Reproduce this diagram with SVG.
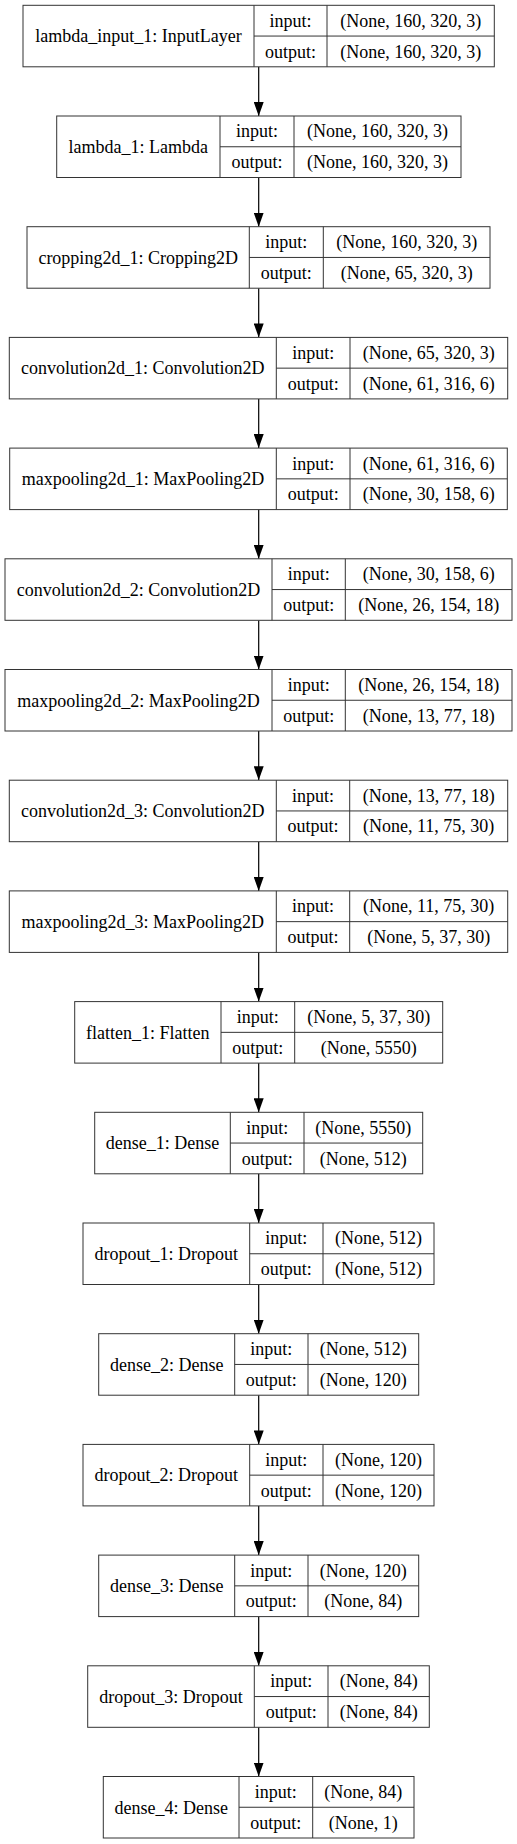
<svg xmlns="http://www.w3.org/2000/svg" width="517" height="1844" viewBox="0 0 517 1844">
<style>
.b{fill:#fff;stroke:#333;stroke-width:1}
.l{stroke:#333;stroke-width:1;fill:none}
text{font-family:"Liberation Serif","Times New Roman",serif;font-size:18px;text-anchor:middle;fill:#000}
.c{stroke:#000;stroke-width:1.2;fill:none}
</style>
<defs>
<marker id="ah" markerUnits="userSpaceOnUse" markerWidth="14" markerHeight="10" viewBox="0 0 14 10" refX="14" refY="5" orient="auto"><path d="M0,0 L14,5 L0,10 z" fill="#000"/></marker>
</defs>
<rect width="517" height="1844" fill="#fff"/>
<g id="connectors">
<line class="c" x1="258.7" y1="66.8" x2="258.7" y2="116" marker-end="url(#ah)"/>
<line class="c" x1="258.7" y1="177.5" x2="258.7" y2="226.7" marker-end="url(#ah)"/>
<line class="c" x1="258.7" y1="288.2" x2="258.7" y2="337.4" marker-end="url(#ah)"/>
<line class="c" x1="258.7" y1="398.9" x2="258.7" y2="448.1" marker-end="url(#ah)"/>
<line class="c" x1="258.7" y1="509.6" x2="258.7" y2="558.8" marker-end="url(#ah)"/>
<line class="c" x1="258.7" y1="620.3" x2="258.7" y2="669.5" marker-end="url(#ah)"/>
<line class="c" x1="258.7" y1="731" x2="258.7" y2="780.2" marker-end="url(#ah)"/>
<line class="c" x1="258.7" y1="841.7" x2="258.7" y2="890.9" marker-end="url(#ah)"/>
<line class="c" x1="258.7" y1="952.4" x2="258.7" y2="1001.6" marker-end="url(#ah)"/>
<line class="c" x1="258.7" y1="1063.1" x2="258.7" y2="1112.3" marker-end="url(#ah)"/>
<line class="c" x1="258.7" y1="1173.8" x2="258.7" y2="1223" marker-end="url(#ah)"/>
<line class="c" x1="258.7" y1="1284.5" x2="258.7" y2="1333.7" marker-end="url(#ah)"/>
<line class="c" x1="258.7" y1="1395.2" x2="258.7" y2="1444.4" marker-end="url(#ah)"/>
<line class="c" x1="258.7" y1="1505.9" x2="258.7" y2="1555.1" marker-end="url(#ah)"/>
<line class="c" x1="258.7" y1="1616.6" x2="258.7" y2="1665.8" marker-end="url(#ah)"/>
<line class="c" x1="258.7" y1="1727.3" x2="258.7" y2="1776.5" marker-end="url(#ah)"/>
</g>
<g id="lambda_input_1">
<rect class="b" x="23" y="5.3" width="471.3" height="61.5"/>
<path class="l" d="M254,5.3V66.8M327,5.3V66.8M254,36.05H494.3"/>
<text x="138.5" y="42.35">lambda_input_1: InputLayer</text>
<text x="290.5" y="26.7">input:</text>
<text x="290.5" y="57.5">output:</text>
<text x="410.65" y="26.7">(None, 160, 320, 3)</text>
<text x="410.65" y="57.5">(None, 160, 320, 3)</text>
</g>
<g id="lambda_1">
<rect class="b" x="56.7" y="116" width="404.3" height="61.5"/>
<path class="l" d="M220,116V177.5M294,116V177.5M220,146.75H461"/>
<text x="138.35" y="153.05">lambda_1: Lambda</text>
<text x="257" y="137.4">input:</text>
<text x="257" y="168.2">output:</text>
<text x="377.5" y="137.4">(None, 160, 320, 3)</text>
<text x="377.5" y="168.2">(None, 160, 320, 3)</text>
</g>
<g id="cropping2d_1">
<rect class="b" x="27" y="226.7" width="463" height="61.5"/>
<path class="l" d="M249.3,226.7V288.2M323.3,226.7V288.2M249.3,257.45H490"/>
<text x="138.15" y="263.75">cropping2d_1: Cropping2D</text>
<text x="286.3" y="248.1">input:</text>
<text x="286.3" y="278.9">output:</text>
<text x="406.65" y="248.1">(None, 160, 320, 3)</text>
<text x="406.65" y="278.9">(None, 65, 320, 3)</text>
</g>
<g id="convolution2d_1">
<rect class="b" x="9.3" y="337.4" width="498.4" height="61.5"/>
<path class="l" d="M276.3,337.4V398.9M350,337.4V398.9M276.3,368.15H507.7"/>
<text x="142.8" y="374.45">convolution2d_1: Convolution2D</text>
<text x="313.15" y="358.8">input:</text>
<text x="313.15" y="389.6">output:</text>
<text x="428.85" y="358.8">(None, 65, 320, 3)</text>
<text x="428.85" y="389.6">(None, 61, 316, 6)</text>
</g>
<g id="maxpooling2d_1">
<rect class="b" x="9.7" y="448.1" width="497.6" height="61.5"/>
<path class="l" d="M276.3,448.1V509.6M350,448.1V509.6M276.3,478.85H507.3"/>
<text x="143" y="485.15">maxpooling2d_1: MaxPooling2D</text>
<text x="313.15" y="469.5">input:</text>
<text x="313.15" y="500.3">output:</text>
<text x="428.65" y="469.5">(None, 61, 316, 6)</text>
<text x="428.65" y="500.3">(None, 30, 158, 6)</text>
</g>
<g id="convolution2d_2">
<rect class="b" x="5" y="558.8" width="507" height="61.5"/>
<path class="l" d="M272,558.8V620.3M345.3,558.8V620.3M272,589.55H512"/>
<text x="138.5" y="595.85">convolution2d_2: Convolution2D</text>
<text x="308.65" y="580.2">input:</text>
<text x="308.65" y="611">output:</text>
<text x="428.65" y="580.2">(None, 30, 158, 6)</text>
<text x="428.65" y="611">(None, 26, 154, 18)</text>
</g>
<g id="maxpooling2d_2">
<rect class="b" x="5" y="669.5" width="507" height="61.5"/>
<path class="l" d="M272,669.5V731M345.3,669.5V731M272,700.25H512"/>
<text x="138.5" y="706.55">maxpooling2d_2: MaxPooling2D</text>
<text x="308.65" y="690.9">input:</text>
<text x="308.65" y="721.7">output:</text>
<text x="428.65" y="690.9">(None, 26, 154, 18)</text>
<text x="428.65" y="721.7">(None, 13, 77, 18)</text>
</g>
<g id="convolution2d_3">
<rect class="b" x="9.3" y="780.2" width="498.4" height="61.5"/>
<path class="l" d="M276.3,780.2V841.7M349.7,780.2V841.7M276.3,810.95H507.7"/>
<text x="142.8" y="817.25">convolution2d_3: Convolution2D</text>
<text x="313" y="801.6">input:</text>
<text x="313" y="832.4">output:</text>
<text x="428.7" y="801.6">(None, 13, 77, 18)</text>
<text x="428.7" y="832.4">(None, 11, 75, 30)</text>
</g>
<g id="maxpooling2d_3">
<rect class="b" x="9.3" y="890.9" width="498.4" height="61.5"/>
<path class="l" d="M276.3,890.9V952.4M349.7,890.9V952.4M276.3,921.65H507.7"/>
<text x="142.8" y="927.95">maxpooling2d_3: MaxPooling2D</text>
<text x="313" y="912.3">input:</text>
<text x="313" y="943.1">output:</text>
<text x="428.7" y="912.3">(None, 11, 75, 30)</text>
<text x="428.7" y="943.1">(None, 5, 37, 30)</text>
</g>
<g id="flatten_1">
<rect class="b" x="74.7" y="1001.6" width="368" height="61.5"/>
<path class="l" d="M221,1001.6V1063.1M294.7,1001.6V1063.1M221,1032.35H442.7"/>
<text x="147.85" y="1038.65">flatten_1: Flatten</text>
<text x="257.85" y="1023">input:</text>
<text x="257.85" y="1053.8">output:</text>
<text x="368.7" y="1023">(None, 5, 37, 30)</text>
<text x="368.7" y="1053.8">(None, 5550)</text>
</g>
<g id="dense_1">
<rect class="b" x="94.7" y="1112.3" width="328" height="61.5"/>
<path class="l" d="M230.3,1112.3V1173.8M304,1112.3V1173.8M230.3,1143.05H422.7"/>
<text x="162.5" y="1149.35">dense_1: Dense</text>
<text x="267.15" y="1133.7">input:</text>
<text x="267.15" y="1164.5">output:</text>
<text x="363.35" y="1133.7">(None, 5550)</text>
<text x="363.35" y="1164.5">(None, 512)</text>
</g>
<g id="dropout_1">
<rect class="b" x="83" y="1223" width="351" height="61.5"/>
<path class="l" d="M249.7,1223V1284.5M323,1223V1284.5M249.7,1253.75H434"/>
<text x="166.35" y="1260.05">dropout_1: Dropout</text>
<text x="286.35" y="1244.4">input:</text>
<text x="286.35" y="1275.2">output:</text>
<text x="378.5" y="1244.4">(None, 512)</text>
<text x="378.5" y="1275.2">(None, 512)</text>
</g>
<g id="dense_2">
<rect class="b" x="98.7" y="1333.7" width="320" height="61.5"/>
<path class="l" d="M234.7,1333.7V1395.2M308,1333.7V1395.2M234.7,1364.45H418.7"/>
<text x="166.7" y="1370.75">dense_2: Dense</text>
<text x="271.35" y="1355.1">input:</text>
<text x="271.35" y="1385.9">output:</text>
<text x="363.35" y="1355.1">(None, 512)</text>
<text x="363.35" y="1385.9">(None, 120)</text>
</g>
<g id="dropout_2">
<rect class="b" x="83" y="1444.4" width="351" height="61.5"/>
<path class="l" d="M249.7,1444.4V1505.9M323,1444.4V1505.9M249.7,1475.15H434"/>
<text x="166.35" y="1481.45">dropout_2: Dropout</text>
<text x="286.35" y="1465.8">input:</text>
<text x="286.35" y="1496.6">output:</text>
<text x="378.5" y="1465.8">(None, 120)</text>
<text x="378.5" y="1496.6">(None, 120)</text>
</g>
<g id="dense_3">
<rect class="b" x="98.7" y="1555.1" width="320" height="61.5"/>
<path class="l" d="M234.7,1555.1V1616.6M308,1555.1V1616.6M234.7,1585.85H418.7"/>
<text x="166.7" y="1592.15">dense_3: Dense</text>
<text x="271.35" y="1576.5">input:</text>
<text x="271.35" y="1607.3">output:</text>
<text x="363.35" y="1576.5">(None, 120)</text>
<text x="363.35" y="1607.3">(None, 84)</text>
</g>
<g id="dropout_3">
<rect class="b" x="87.7" y="1665.8" width="341.6" height="61.5"/>
<path class="l" d="M254.3,1665.8V1727.3M328,1665.8V1727.3M254.3,1696.55H429.3"/>
<text x="171" y="1702.85">dropout_3: Dropout</text>
<text x="291.15" y="1687.2">input:</text>
<text x="291.15" y="1718">output:</text>
<text x="378.65" y="1687.2">(None, 84)</text>
<text x="378.65" y="1718">(None, 84)</text>
</g>
<g id="dense_4">
<rect class="b" x="103.3" y="1776.5" width="310.7" height="61.5"/>
<path class="l" d="M239,1776.5V1838M312.7,1776.5V1838M239,1807.25H414"/>
<text x="171.15" y="1813.55">dense_4: Dense</text>
<text x="275.85" y="1797.9">input:</text>
<text x="275.85" y="1828.7">output:</text>
<text x="363.35" y="1797.9">(None, 84)</text>
<text x="363.35" y="1828.7">(None, 1)</text>
</g>
</svg>
